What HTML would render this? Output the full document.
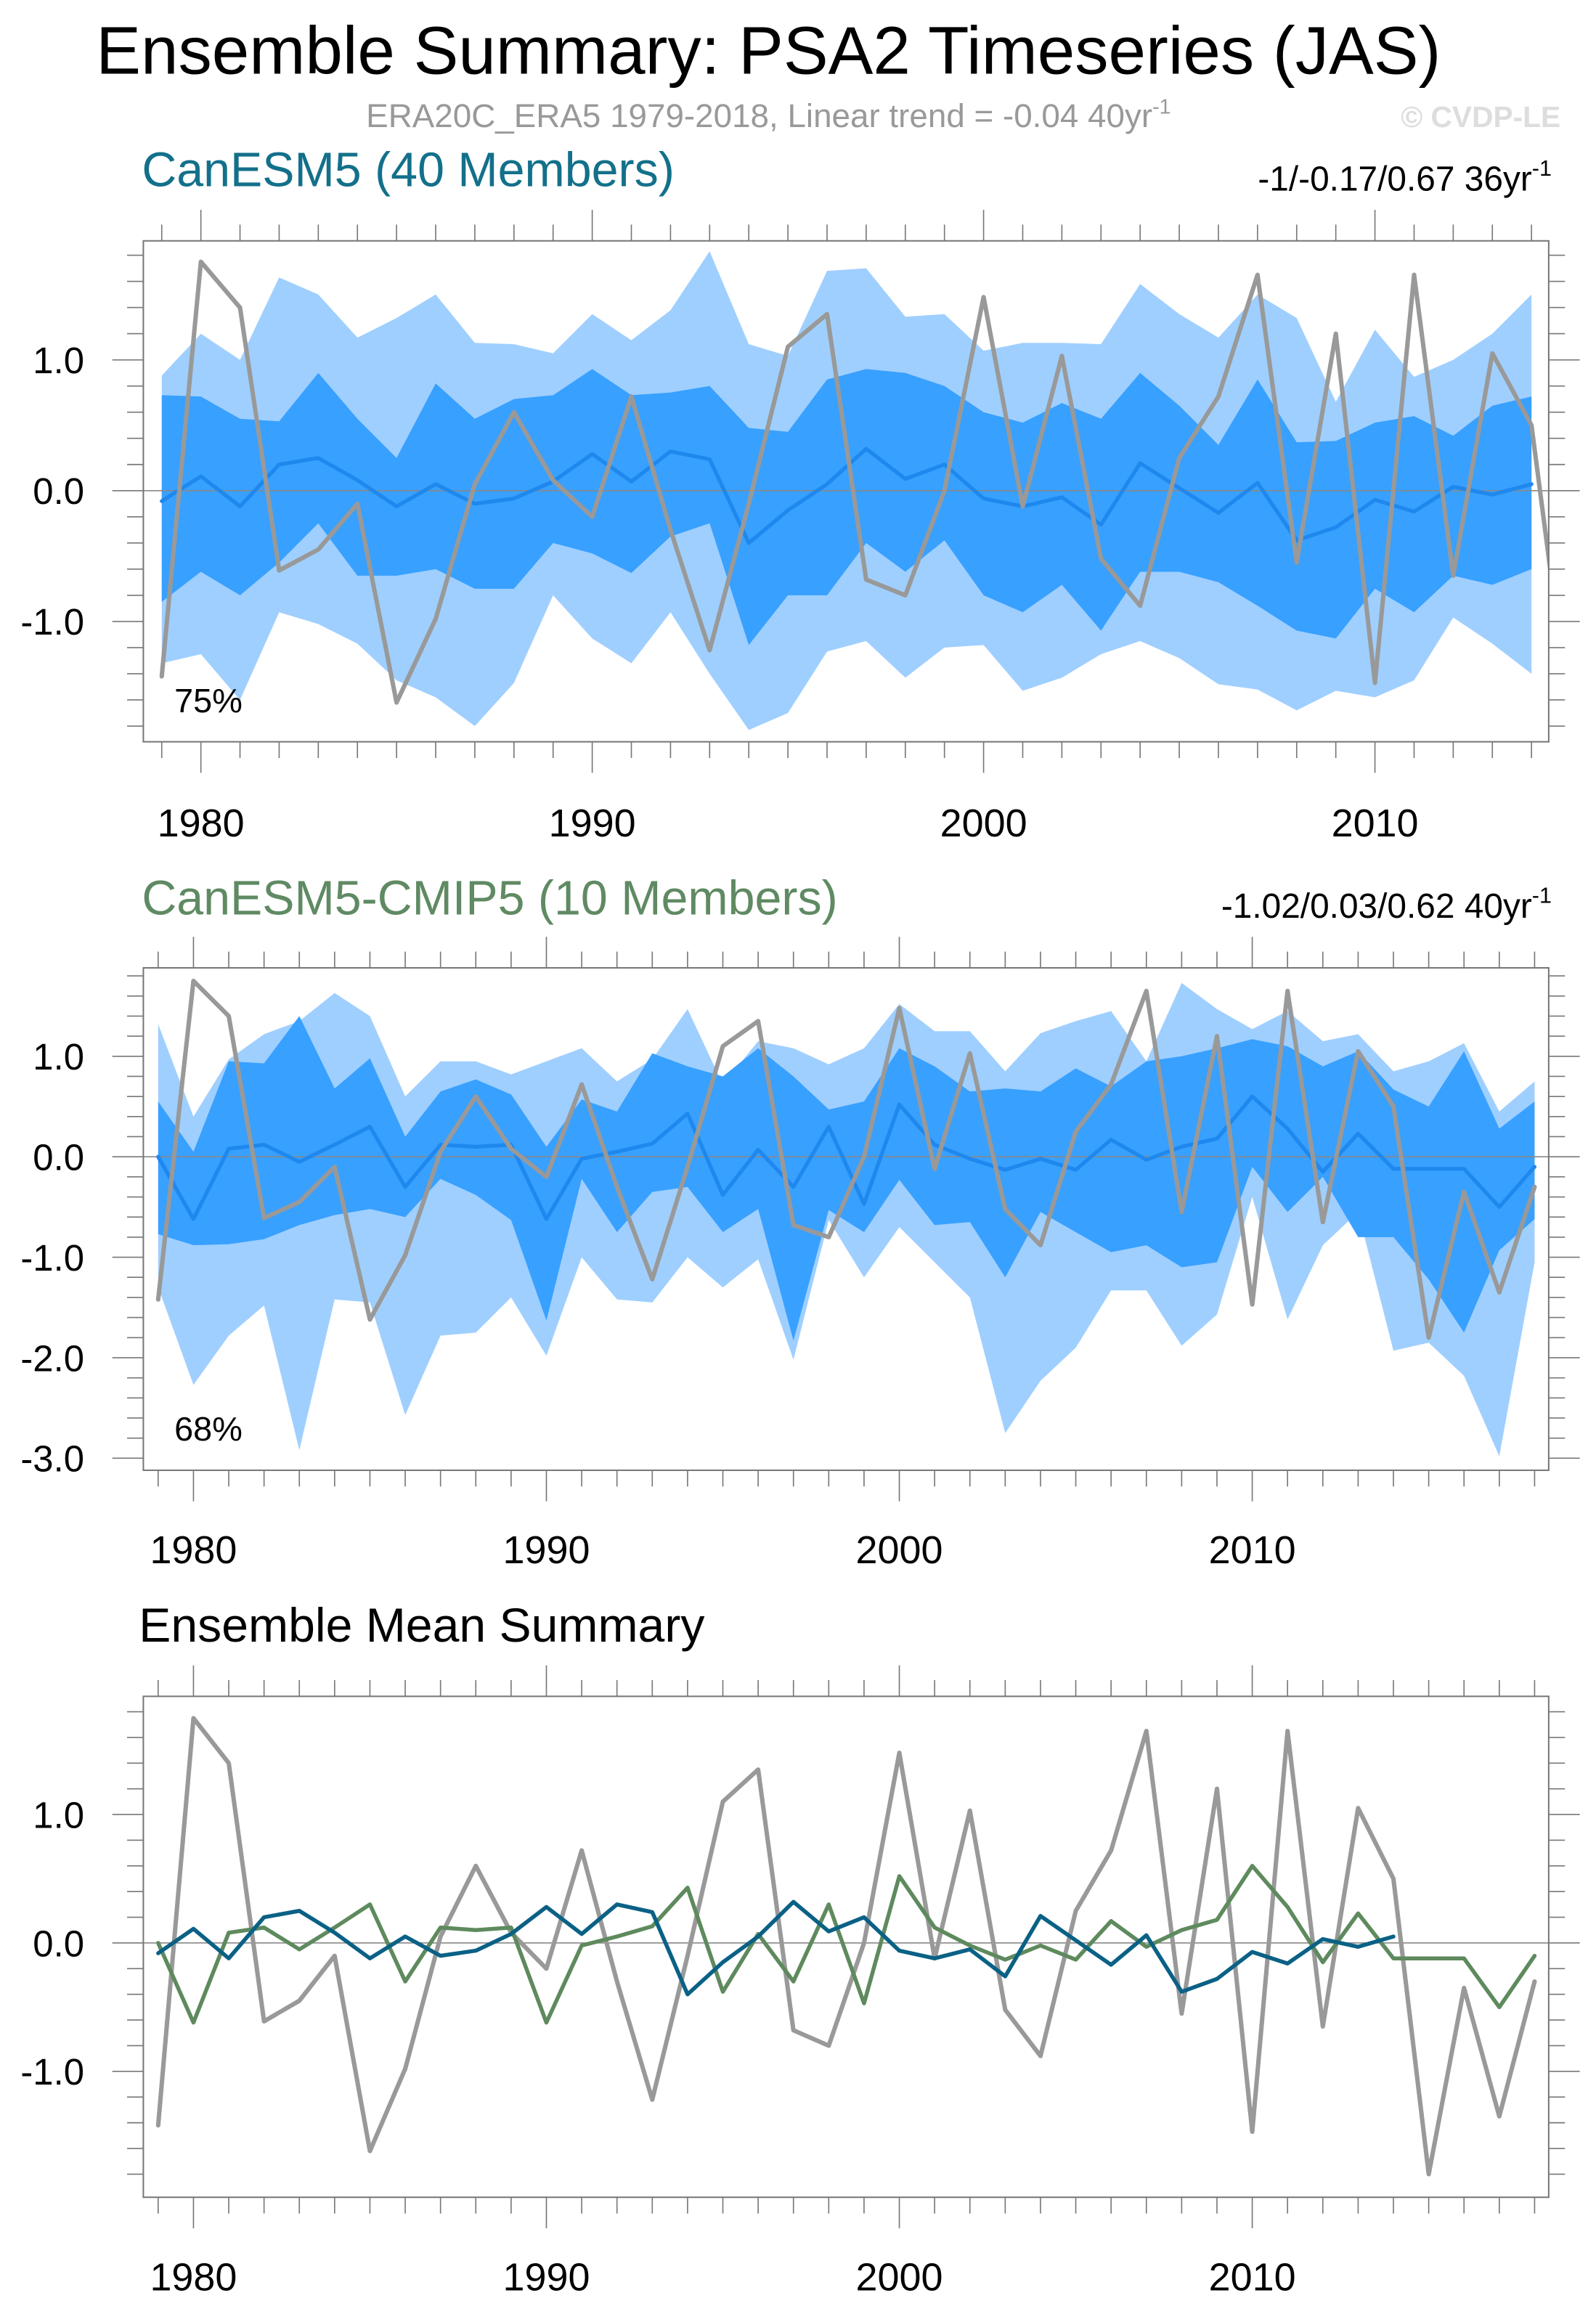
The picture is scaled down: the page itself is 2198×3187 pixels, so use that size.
<!DOCTYPE html>
<html><head><meta charset="utf-8"><style>
html,body{margin:0;padding:0;background:#fff}
svg{display:block}
text{font-family:"Liberation Sans",sans-serif}
</style></head><body>
<svg id="chart" width="2198" height="3187" viewBox="0 0 1080 1566" preserveAspectRatio="none" xmlns="http://www.w3.org/2000/svg">
<rect width="1080" height="1566" fill="#fff"/>
<text x="520" y="50" font-size="45.5" text-anchor="middle">Ensemble Summary: PSA2 Timeseries (JAS)</text>
<text x="520" y="86" font-size="22.5" fill="#999" text-anchor="middle">ERA20C_ERA5 1979-2018, Linear trend = -0.04 40yr<tspan dy="-9" font-size="14">-1</tspan></text>
<text x="1056" y="86" font-size="20" font-weight="bold" fill="#ddd" text-anchor="end">© CVDP-LE</text>
<text x="96" y="126" font-size="32.6" fill="#13708a">CanESM5 (40 Members)</text>
<text x="1050" y="129" font-size="23.5" text-anchor="end">-1/-0.17/0.67 36yr<tspan dy="-10" font-size="15">-1</tspan></text>
<text x="96" y="619" font-size="32.6" fill="#5f8a63">CanESM5-CMIP5 (10 Members)</text>
<text x="1050" y="621" font-size="23.5" text-anchor="end">-1.02/0.03/0.62 40yr<tspan dy="-10" font-size="15">-1</tspan></text>
<text x="94" y="1111" font-size="32.5">Ensemble Mean Summary</text>
<g id="p1"></g>
<g id="p2"></g>
<g id="p3"></g>
</svg>
<script>
const obsYears = Array.from({length:40},(_, i)=>1979+i);
const obsValues = [-1.42,1.75,1.40,-0.61,-0.45,-0.10,-1.62,-0.98,0.05,0.60,0.08,-0.20,0.72,-0.30,-1.22,-0.10,1.10,1.35,-0.68,-0.80,0.00,1.48,-0.12,1.03,-0.52,-0.88,0.25,0.72,1.65,-0.55,1.20,-1.47,1.65,-0.65,1.05,0.50,-1.80,-0.35,-1.35,-0.30];
const canYears = Array.from({length:36},(_, i)=>1979+i);
const canMean = [-0.08,0.11,-0.12,0.20,0.25,0.08,-0.12,0.05,-0.10,-0.06,0.07,0.28,0.07,0.30,0.24,-0.40,-0.15,0.05,0.32,0.09,0.20,-0.06,-0.12,-0.05,-0.26,0.21,0.02,-0.17,0.06,-0.38,-0.28,-0.07,-0.16,0.03,-0.03,0.05];
const canDarkHi = [0.73,0.72,0.55,0.53,0.90,0.55,0.25,0.82,0.55,0.70,0.73,0.93,0.73,0.75,0.80,0.48,0.45,0.85,0.93,0.90,0.80,0.60,0.52,0.67,0.55,0.90,0.65,0.35,0.85,0.37,0.38,0.52,0.57,0.42,0.65,0.72];
const canDarkLo = [-0.85,-0.62,-0.80,-0.55,-0.25,-0.65,-0.65,-0.60,-0.75,-0.75,-0.40,-0.48,-0.63,-0.35,-0.25,-1.18,-0.80,-0.80,-0.40,-0.62,-0.38,-0.80,-0.93,-0.72,-1.07,-0.62,-0.62,-0.70,-0.88,-1.07,-1.13,-0.75,-0.93,-0.65,-0.72,-0.60];
const canLightHi = [0.88,1.20,1.00,1.63,1.50,1.17,1.32,1.50,1.13,1.12,1.05,1.35,1.15,1.38,1.83,1.12,1.03,1.68,1.70,1.33,1.35,1.07,1.13,1.13,1.12,1.58,1.35,1.17,1.50,1.32,0.68,1.23,0.87,1.00,1.20,1.50];
const canLightLo = [-1.32,-1.25,-1.60,-0.93,-1.02,-1.17,-1.45,-1.58,-1.80,-1.47,-0.80,-1.13,-1.32,-0.93,-1.40,-1.83,-1.70,-1.23,-1.15,-1.43,-1.20,-1.18,-1.53,-1.43,-1.25,-1.15,-1.28,-1.48,-1.52,-1.68,-1.53,-1.58,-1.45,-0.97,-1.17,-1.40];
const c5Years = Array.from({length:40},(_, i)=>1979+i);
const c5Mean = [0.00,-0.62,0.08,0.12,-0.05,0.12,0.30,-0.30,0.12,0.10,0.12,-0.62,-0.02,0.05,0.13,0.43,-0.38,0.07,-0.30,0.30,-0.47,0.52,0.12,-0.02,-0.13,-0.02,-0.13,0.17,-0.03,0.10,0.18,0.60,0.28,-0.15,0.23,-0.12,-0.12,-0.12,-0.50,-0.10];
const c5DarkHi = [0.55,0.05,0.95,0.93,1.40,0.68,0.98,0.20,0.65,0.77,0.62,0.10,0.57,0.45,1.03,0.90,0.80,1.08,0.80,0.47,0.55,1.08,0.90,0.65,0.68,0.65,0.88,0.70,0.95,1.00,1.08,1.17,1.10,0.90,1.05,0.67,0.50,1.05,0.28,0.55];
const c5DarkLo = [-0.77,-0.88,-0.87,-0.82,-0.68,-0.58,-0.52,-0.60,-0.22,-0.38,-0.63,-1.63,-0.22,-0.75,-0.35,-0.30,-0.75,-0.52,-1.83,-0.53,-0.75,-0.23,-0.68,-0.65,-1.20,-0.55,-0.75,-0.95,-0.88,-1.10,-1.05,-0.10,-0.55,-0.20,-0.80,-0.80,-1.22,-1.75,-0.93,-0.62];
const c5LightHi = [1.32,0.40,0.97,1.22,1.35,1.63,1.40,0.60,0.95,0.95,0.82,0.95,1.08,0.75,0.97,1.47,0.72,1.15,1.08,0.92,1.08,1.52,1.25,1.25,0.85,1.23,1.35,1.45,0.95,1.73,1.47,1.27,1.45,1.15,1.22,0.85,0.95,1.13,0.45,0.75];
const c5LightLo = [-1.30,-2.27,-1.78,-1.48,-2.92,-1.42,-1.45,-2.57,-1.78,-1.75,-1.40,-1.98,-1.00,-1.42,-1.45,-1.00,-1.30,-1.02,-2.02,-0.63,-1.20,-0.70,-1.05,-1.40,-2.75,-2.23,-1.90,-1.33,-1.33,-1.88,-1.57,-0.40,-1.62,-0.88,-0.55,-1.93,-1.85,-2.18,-2.98,-1.05];
const xTickLabels = [1980,1990,2000,2010];
const p1YTicks = [-1.0,0.0,1.0];
const p2YTicks = [-3.0,-2.0,-1.0,0.0,1.0];
const p3YTicks = [-1.0,0.0,1.0];

const NS='http://www.w3.org/2000/svg';
function mk(tag,attrs,parent){const e=document.createElementNS(NS,tag);for(const k in attrs)e.setAttribute(k,attrs[k]);parent.appendChild(e);return e;}

function panel(g,id,cfg){
  const {x0,x1,y0,y1,xmin,xmax,ymin,ymax,yTicks,xLabelY}=cfg;
  const X=v=>x0+(v-xmin)/(xmax-xmin)*(x1-x0);
  const Y=v=>y1-(v-ymin)/(ymax-ymin)*(y1-y0);
  const cp=mk('clipPath',{id:'clip'+id},g);
  mk('rect',{x:x0,y:y0,width:x1-x0,height:y1-y0},cp);
  const inner=mk('g',{'clip-path':'url(#clip'+id+')'},g);
  const pts=(xs,ys)=>xs.map((x,i)=>X(x)+','+Y(ys[i])).join(' ');
  const band=(xs,hi,lo,fill,name)=>{
    const p=mk('polygon',{points:pts(xs,hi)+' '+pts(xs.slice().reverse(),lo.slice().reverse()),fill:fill},inner);
    
    
  };
  const line=(xs,ys,stroke,w,name)=>{
    const p=mk('polyline',{points:pts(xs,ys),fill:'none',stroke:stroke,'stroke-width':w,'stroke-linejoin':'round','stroke-linecap':'round'},inner);
    
    
  };
  if(cfg.bands){
    band(cfg.xs,cfg.lHi,cfg.lLo,'#9fcfff','outer-spread-band');
    band(cfg.xs,cfg.dHi,cfg.dLo,'#38a0ff','inner-spread-band');
  }
  const z=mk('line',{x1:x0,x2:x1,y1:Y(0),y2:Y(0),stroke:'#888','stroke-width':0.8},inner);
  
  
  (cfg.lines||[]).forEach(l=>line(l.xs,l.ys,l.c,l.w,l.n));
  const fr=mk('rect',{x:x0,y:y0,width:x1-x0,height:y1-y0,fill:'none',stroke:'#777','stroke-width':1},g);
  
  
  for(let yr=Math.ceil(xmin);yr<=xmax;yr++){
    const maj=yr%10===0, L=maj?21:11, x=X(yr);
    mk('line',{x1:x,x2:x,y1:y1,y2:y1+L,stroke:'#777','stroke-width':0.8},g);
    mk('line',{x1:x,x2:x,y1:y0,y2:y0-L,stroke:'#777','stroke-width':0.8},g);
  }
  xTickLabels.forEach(v=>{
    const t=mk('text',{x:X(v),y:xLabelY,'font-size':26.5,'text-anchor':'middle'},g);
    t.textContent=v;
    
    
  });
  for(let k=Math.ceil(ymin*5);k<=Math.floor(ymax*5);k++){
    const v=k/5, maj=k%5===0, L=maj?21:11, y=Y(v);
    mk('line',{x1:x0,x2:x0-L,y1:y,y2:y,stroke:'#777','stroke-width':0.8},g);
    mk('line',{x1:x1,x2:x1+L,y1:y,y2:y,stroke:'#777','stroke-width':0.8},g);
  }
  yTicks.forEach(v=>{
    const t=mk('text',{x:57,y:Y(v)+9,'font-size':25,'text-anchor':'end'},g);
    t.textContent=v.toFixed(1);
    
    
  });
  if(cfg.pct){
    const t=mk('text',{x:118,y:cfg.pctY,'font-size':23},g);
    t.textContent=cfg.pct;
    
    
  }
}
panel(document.getElementById('p1'),1,{x0:97,x1:1048,y0:163,y1:502,xmin:1978.53,xmax:2014.44,ymin:-1.92,ymax:1.91,yTicks:p1YTicks,xLabelY:566,
  bands:true,xs:canYears,lHi:canLightHi,lLo:canLightLo,dHi:canDarkHi,dLo:canDarkLo,pct:'75%',pctY:482,
  lines:[{xs:canYears,ys:canMean,c:'#1e88ee',w:2.6,n:'ensemble-mean-line'},{xs:obsYears,ys:obsValues,c:'#999',w:3,n:'observed-line'}]});
panel(document.getElementById('p2'),2,{x0:97,x1:1048,y0:655,y1:995,xmin:1978.58,xmax:2018.4,ymin:-3.12,ymax:1.88,yTicks:p2YTicks,xLabelY:1058,
  bands:true,xs:c5Years,lHi:c5LightHi,lLo:c5LightLo,dHi:c5DarkHi,dLo:c5DarkLo,pct:'68%',pctY:975,
  lines:[{xs:c5Years,ys:c5Mean,c:'#1e88ee',w:2.6,n:'ensemble-mean-line'},{xs:obsYears,ys:obsValues,c:'#999',w:3,n:'observed-line'}]});
panel(document.getElementById('p3'),3,{x0:97,x1:1048,y0:1148,y1:1487,xmin:1978.58,xmax:2018.4,ymin:-1.98,ymax:1.92,yTicks:p3YTicks,xLabelY:1550,
  bands:false,
  lines:[{xs:obsYears,ys:obsValues,c:'#999',w:3,n:'observed-line'},{xs:c5Years,ys:c5Mean,c:'#5e8a5e',w:2.7,n:'canesm5-cmip5-mean-line'},{xs:canYears,ys:canMean,c:'#0a6185',w:2.7,n:'canesm5-mean-line'}]});
</script>
</body></html>
